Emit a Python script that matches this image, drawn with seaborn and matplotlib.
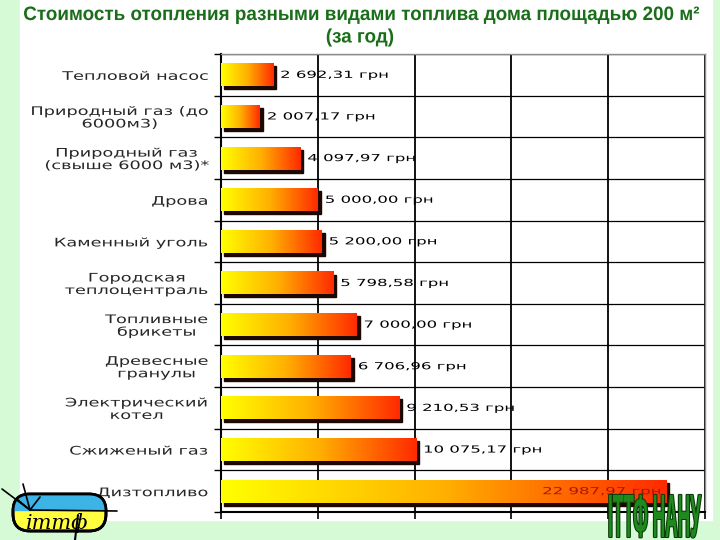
import numpy as np
import pandas as pd
import seaborn as sns
import matplotlib
matplotlib.use("Agg")
from matplotlib import pyplot as plt
import matplotlib.patheffects as pe
from matplotlib.patches import Rectangle, FancyBboxPatch
from matplotlib.transforms import Affine2D, ScaledTranslation
from matplotlib.colors import LinearSegmentedColormap

# data
fuels = [
    "Тепловой насос",
    "Природный газ (до\n6000м3)",
    "Природный газ\n(свыше 6000 м3)*",
    "Дрова",
    "Каменный уголь",
    "Городская\nтеплоцентраль",
    "Топливные\nбрикеты",
    "Древесные\nгранулы",
    "Электрический\nкотел",
    "Сжиженый газ",
    "Дизтопливо",
]
costs = [2692.31, 2007.17, 4097.97, 5000.00, 5200.00, 5798.58,
         7000.00, 6706.96, 9210.53, 10075.17, 22987.97]
x_ticks = [0, 5000, 10000, 15000, 20000, 25000]
title_line1 = "Стоимость отопления разными видами топлива дома площадью 200 м²"
title_line2 = "(за год)"
logo_text = "іттф"
org_text = "ІТТФ НАНУ"

BOLD_FAM = ["Liberation Sans", "DejaVu Sans"]
GREEN_BG = "#d5fad5"


def fmt_cost(v):
    return f"{v:,.2f}".replace(",", " ").replace(".", ",") + " грн"


class Stretch(pe.AbstractPathEffect):
    """draw text glyphs stretched; x0 = display x to stretch around"""

    def __init__(self, sx=1.0, sy=1.0, x0=None, stroke=None):
        super().__init__()
        self.sx, self.sy, self.x0, self.stroke = sx, sy, x0, stroke

    def draw_path(self, renderer, gc, tpath, affine, rgbFace=None):
        if self.x0 is None:
            aff = Affine2D().scale(self.sx, self.sy) + affine
        else:
            X0 = self.x0()
            aff = affine + Affine2D().translate(-X0, 0).scale(self.sx, 1).translate(X0, 0)
        if self.stroke:
            gc0 = renderer.new_gc()
            gc0.copy_properties(gc)
            gc0.set_foreground(self.stroke[0])
            gc0.set_linewidth(self.stroke[1])
            renderer.draw_path(gc0, tpath, aff, rgbFace)
            gc0.restore()
        renderer.draw_path(gc, tpath, aff, rgbFace)


sns.set_style("white")
plt.rcParams["font.family"] = ["DejaVu Sans"]

fig = plt.figure(figsize=(7.2, 5.4), dpi=100)

# background: white panel on light green
bg = fig.add_axes([0, 0, 1, 1], zorder=-5)
bg.add_patch(Rectangle((0, 0), 720, 540, color=GREEN_BG))
bg.add_patch(Rectangle((20, 0), 692, 520, color="white"))
green_cmap = LinearSegmentedColormap.from_list("g", ["white", GREEN_BG])
vgrad = np.linspace(0, 1, 100).reshape(-1, 1)
bg.imshow(vgrad, cmap=green_cmap, extent=[0, 20, 520, 0], aspect="auto")
bg.imshow(vgrad, cmap=green_cmap, extent=[712, 720, 520, 0], aspect="auto")
bg.set_xlim(0, 720)
bg.set_ylim(540, 0)
bg.axis("off")

# main chart
ax = fig.add_axes([221 / 720, 28 / 540, 484 / 720, 458 / 540])
df = pd.DataFrame({"fuel": fuels, "cost": costs})
sns.barplot(data=df, x="cost", y="fuel", orient="h", width=0.55,
            color="#ff8000", saturation=1, ax=ax)

fire = LinearSegmentedColormap.from_list("fire", ["#ffff00", "#ffb000", "#ff2a00"])
grad = np.linspace(0, 1, 256).reshape(1, -1)
shadow_off = ScaledTranslation(3 / 100, -3 / 100, fig.dpi_scale_trans)
for bar in list(ax.patches):
    bx, by = bar.get_x(), bar.get_y()
    bw, bh = bar.get_width(), bar.get_height()
    ax.add_patch(Rectangle((bx, by), bw, bh, transform=ax.transData + shadow_off,
                           color="#1c0800", zorder=2))
    ax.imshow(grad, cmap=fire, extent=[bx, bx + bw, by + bh, by],
              aspect="auto", zorder=3, interpolation="bilinear")
    bar.set_visible(False)

ax.set_xlim(0, 25000)
ax.set_ylim(len(fuels) - 0.5, -0.5)
ax.set_xlabel("")
ax.set_ylabel("")
ax.set_xticks(x_ticks)
ax.set_xticklabels([])

pad_pts = 9
pad_px = pad_pts * fig.dpi / 72
ax.set_yticks(range(len(fuels)))
ax.set_yticklabels(fuels, fontsize=8.5, multialignment="center", linespacing=0.95,
                   path_effects=[Stretch(1.5, x0=lambda: ax.transAxes.transform((0, 0))[0] - pad_px)])
ax.set_yticks(np.arange(-0.5, len(fuels), 1), minor=True)
ax.tick_params(axis="y", which="major", length=0, pad=pad_pts)
ax.tick_params(axis="y", which="minor", length=5, width=1, color="black", left=True)
ax.tick_params(axis="x", which="major", length=5, width=1.2, color="black", bottom=True)
ax.grid(axis="x", which="major", color="black", lw=1.3)
ax.grid(axis="y", which="minor", color="black", lw=0.9)
ax.set_axisbelow(True)
for side in ["left", "bottom"]:
    ax.spines[side].set_color("black")
    ax.spines[side].set_linewidth(1.5)
for side in ["top", "right"]:
    ax.spines[side].set_color("#8c8c8c")
    ax.spines[side].set_linewidth(1)

# value labels
for i, v in enumerate(costs):
    if i < len(costs) - 1:
        ax.annotate(fmt_cost(v), xy=(v, i), xytext=(7, 0), textcoords="offset pixels",
                    ha="left", va="center", fontsize=7, color="black", zorder=6,
                    path_effects=[Stretch(1.7)])
    else:
        ax.annotate(fmt_cost(v), xy=(v, i), xytext=(-4, 0), textcoords="offset pixels",
                    ha="right", va="center", fontsize=7, color="#a81800", zorder=6,
                    path_effects=[Stretch(1.7, x0=lambda v=v, i=i: ax.transData.transform((v, i))[0] - 4)])

# title (condensed bold)
fig.text(362 / 720, 1 - 15 / 540, title_line1, ha="center", va="center", fontsize=14,
         fontweight="bold", color="#1a6e1a", family=BOLD_FAM,
         path_effects=[Stretch(0.97, x0=lambda: 362.0)])
fig.text(360 / 720, 1 - 38 / 540, title_line2, ha="center", va="center", fontsize=14,
         fontweight="bold", color="#1a6e1a", family=BOLD_FAM,
         path_effects=[Stretch(0.97, x0=lambda: 360.0)])

# logo bottom left
lg = fig.add_axes([0, 0, 130 / 720, 60 / 540], zorder=5)
lg.set_xlim(0, 130)
lg.set_ylim(540, 480)
lg.axis("off")
pill = FancyBboxPatch((13, 494), 93, 37, boxstyle="round,pad=0,rounding_size=17",
                      facecolor="#ffff40", edgecolor="black", lw=2, zorder=2)
lg.add_patch(pill)
top_half = Rectangle((10, 490), 100, 20, color="#3cb4e6", zorder=3)
top_half.set_clip_path(pill)
lg.add_patch(top_half)
lg.add_patch(FancyBboxPatch((13, 494), 93, 37, boxstyle="round,pad=0,rounding_size=17",
                            facecolor="none", edgecolor="black", lw=2, zorder=4))
for ex, ey in [(2, 489), (23, 484), (117, 511), (40, 497), (18, 500)]:
    lg.plot([30, ex], [510, ey], color="black", lw=1.2, zorder=5)
lg.plot([78, 75], [515, 540], color="black", lw=1.5, zorder=5)
lg.text(57, 523, logo_text, ha="center", va="center", fontsize=15, style="italic",
        family=["DejaVu Serif"], color="black", zorder=6)

# org name bottom right (tall, narrow)
fig.text(608 / 720, 0, org_text, ha="left", va="bottom", fontsize=11,
         fontweight="bold", color="#1e8a1e", family=BOLD_FAM, zorder=6,
         path_effects=[Stretch(1.13, 4.0, stroke=("#0a3a0a", 1.5))])

fig.savefig("out.png", dpi=100)
